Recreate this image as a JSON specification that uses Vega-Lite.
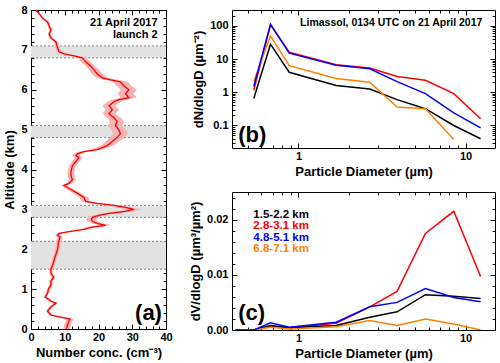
{
  "$schema": "https://vega.github.io/schema/vega-lite/v6.json",
  "autosize": {"type": "none"},
  "padding": {"left": 31, "top": 10, "right": 469, "bottom": 353},
  "bounds": "flush",
  "spacing": 66,
  "datasets": {
    "bands": [{"b": 1.5, "t": 2.2}, {"b": 2.8, "t": 3.1}, {"b": 4.8, "t": 5.1}, {"b": 6.8, "t": 7.1}],
    "bandlines": [{"y": 1.5}, {"y": 2.2}, {"y": 2.8}, {"y": 3.1}, {"y": 4.8}, {"y": 5.1}, {"y": 6.8}, {"y": 7.1}],
    "profile": [
      {"alt": 0, "n": 10.5, "lo": 9.5, "hi": 11.5},
      {"alt": 0.1, "n": 10.8, "lo": 9.8, "hi": 11.8},
      {"alt": 0.2, "n": 11.3, "lo": 10.3, "hi": 12.3},
      {"alt": 0.25, "n": 11.6, "lo": 10.6, "hi": 12.6},
      {"alt": 0.3, "n": 8.8, "lo": 8.0, "hi": 9.6},
      {"alt": 0.35, "n": 5.9, "lo": 5.4, "hi": 6.4},
      {"alt": 0.45, "n": 4.9, "lo": 4.4, "hi": 5.4},
      {"alt": 0.55, "n": 5.9, "lo": 5.4, "hi": 6.4},
      {"alt": 0.65, "n": 7.4, "lo": 6.8, "hi": 8.0},
      {"alt": 0.7, "n": 5.9, "lo": 5.4, "hi": 6.4},
      {"alt": 0.8, "n": 4.2, "lo": 3.8, "hi": 4.6},
      {"alt": 0.9, "n": 4.9, "lo": 4.4, "hi": 5.4},
      {"alt": 1.0, "n": 5.2, "lo": 4.7, "hi": 5.7},
      {"alt": 1.1, "n": 5.9, "lo": 5.4, "hi": 6.4},
      {"alt": 1.2, "n": 5.9, "lo": 5.4, "hi": 6.4},
      {"alt": 1.3, "n": 6.7, "lo": 6.1, "hi": 7.3},
      {"alt": 1.4, "n": 5.9, "lo": 5.4, "hi": 6.4},
      {"alt": 1.5, "n": 5.9, "lo": 5.4, "hi": 6.4},
      {"alt": 1.6, "n": 6.4, "lo": 5.8, "hi": 7.0},
      {"alt": 1.8, "n": 7.1, "lo": 6.5, "hi": 7.7},
      {"alt": 2.0, "n": 7.9, "lo": 7.2, "hi": 8.6},
      {"alt": 2.2, "n": 8.2, "lo": 7.5, "hi": 8.9},
      {"alt": 2.3, "n": 8.6, "lo": 7.8, "hi": 9.4},
      {"alt": 2.35, "n": 7.9, "lo": 7.2, "hi": 8.6},
      {"alt": 2.4, "n": 8.3, "lo": 7.6, "hi": 9.0},
      {"alt": 2.45, "n": 11.8, "lo": 10.8, "hi": 12.8},
      {"alt": 2.5, "n": 15.7, "lo": 14.4, "hi": 17.0},
      {"alt": 2.55, "n": 17.7, "lo": 16.2, "hi": 19.2},
      {"alt": 2.6, "n": 22.1, "lo": 20.3, "hi": 23.9},
      {"alt": 2.65, "n": 19.6, "lo": 18.0, "hi": 21.2},
      {"alt": 2.7, "n": 18.2, "lo": 16.7, "hi": 19.7},
      {"alt": 2.75, "n": 17.9, "lo": 16.4, "hi": 19.4},
      {"alt": 2.8, "n": 18.2, "lo": 16.7, "hi": 19.7},
      {"alt": 2.85, "n": 20.1, "lo": 18.4, "hi": 21.8},
      {"alt": 2.9, "n": 23.1, "lo": 21.2, "hi": 25.0},
      {"alt": 2.95, "n": 28.0, "lo": 25.7, "hi": 30.3},
      {"alt": 3.0, "n": 30.5, "lo": 28.0, "hi": 33.0},
      {"alt": 3.05, "n": 28.0, "lo": 25.7, "hi": 30.3},
      {"alt": 3.1, "n": 24.6, "lo": 22.6, "hi": 26.6},
      {"alt": 3.15, "n": 19.6, "lo": 18.0, "hi": 21.2},
      {"alt": 3.2, "n": 16.2, "lo": 14.9, "hi": 17.5},
      {"alt": 3.3, "n": 15.7, "lo": 14.4, "hi": 17.0},
      {"alt": 3.35, "n": 14.7, "lo": 13.5, "hi": 15.9},
      {"alt": 3.4, "n": 13.8, "lo": 12.7, "hi": 14.9},
      {"alt": 3.5, "n": 11.8, "lo": 10.8, "hi": 12.8},
      {"alt": 3.6, "n": 9.8, "lo": 9.0, "hi": 10.6},
      {"alt": 3.65, "n": 11.3, "lo": 10.4, "hi": 12.2},
      {"alt": 3.75, "n": 12.3, "lo": 11.3, "hi": 13.3},
      {"alt": 3.8, "n": 12.0, "lo": 11.0, "hi": 13.0},
      {"alt": 3.9, "n": 11.8, "lo": 10.8, "hi": 12.8},
      {"alt": 4.0, "n": 12.0, "lo": 11.0, "hi": 13.0},
      {"alt": 4.1, "n": 12.3, "lo": 11.3, "hi": 13.3},
      {"alt": 4.2, "n": 13.3, "lo": 12.2, "hi": 14.4},
      {"alt": 4.3, "n": 14.2, "lo": 13.0, "hi": 15.4},
      {"alt": 4.35, "n": 13.3, "lo": 12.2, "hi": 14.4},
      {"alt": 4.4, "n": 13.8, "lo": 12.7, "hi": 14.9},
      {"alt": 4.45, "n": 15.7, "lo": 14.4, "hi": 17.0},
      {"alt": 4.5, "n": 19.6, "lo": 18.0, "hi": 21.2},
      {"alt": 4.6, "n": 22.6, "lo": 20.8, "hi": 24.4},
      {"alt": 4.7, "n": 24.1, "lo": 22.1, "hi": 26.1},
      {"alt": 4.8, "n": 25.5, "lo": 23.4, "hi": 27.6},
      {"alt": 4.9, "n": 26.5, "lo": 24.3, "hi": 28.7},
      {"alt": 5.0, "n": 26.0, "lo": 23.9, "hi": 28.1},
      {"alt": 5.1, "n": 25.0, "lo": 23.0, "hi": 27.0},
      {"alt": 5.2, "n": 25.5, "lo": 23.4, "hi": 27.6},
      {"alt": 5.3, "n": 24.6, "lo": 22.6, "hi": 26.6},
      {"alt": 5.4, "n": 23.1, "lo": 21.2, "hi": 25.0},
      {"alt": 5.5, "n": 24.1, "lo": 22.1, "hi": 26.1},
      {"alt": 5.6, "n": 23.1, "lo": 21.2, "hi": 25.0},
      {"alt": 5.7, "n": 24.6, "lo": 22.6, "hi": 26.6},
      {"alt": 5.75, "n": 26.0, "lo": 23.9, "hi": 28.1},
      {"alt": 5.8, "n": 29.0, "lo": 26.6, "hi": 31.4},
      {"alt": 5.9, "n": 28.0, "lo": 25.7, "hi": 30.3},
      {"alt": 6.0, "n": 29.0, "lo": 26.6, "hi": 31.4},
      {"alt": 6.1, "n": 27.5, "lo": 25.3, "hi": 29.7},
      {"alt": 6.2, "n": 26.5, "lo": 24.3, "hi": 28.7},
      {"alt": 6.25, "n": 23.6, "lo": 21.7, "hi": 25.5},
      {"alt": 6.3, "n": 21.1, "lo": 19.4, "hi": 22.8},
      {"alt": 6.4, "n": 19.6, "lo": 18.0, "hi": 21.2},
      {"alt": 6.5, "n": 18.7, "lo": 17.2, "hi": 20.2},
      {"alt": 6.6, "n": 17.5, "lo": 16.1, "hi": 18.9},
      {"alt": 6.7, "n": 16.2, "lo": 14.9, "hi": 17.5},
      {"alt": 6.8, "n": 15.2, "lo": 14.0, "hi": 16.4},
      {"alt": 6.85, "n": 12.8, "lo": 11.8, "hi": 13.8},
      {"alt": 6.9, "n": 9.8, "lo": 9.0, "hi": 10.6},
      {"alt": 6.95, "n": 8.3, "lo": 7.6, "hi": 9.0},
      {"alt": 7.0, "n": 8.1, "lo": 7.4, "hi": 8.8},
      {"alt": 7.1, "n": 7.7, "lo": 7.1, "hi": 8.3},
      {"alt": 7.2, "n": 7.4, "lo": 6.8, "hi": 8.0},
      {"alt": 7.3, "n": 5.9, "lo": 5.4, "hi": 6.4},
      {"alt": 7.4, "n": 5.4, "lo": 5.0, "hi": 5.8},
      {"alt": 7.5, "n": 5.9, "lo": 5.4, "hi": 6.4},
      {"alt": 7.6, "n": 5.4, "lo": 5.0, "hi": 5.8},
      {"alt": 7.7, "n": 4.9, "lo": 4.5, "hi": 5.3},
      {"alt": 7.8, "n": 3.4, "lo": 3.1, "hi": 3.7},
      {"alt": 7.9, "n": 2.5, "lo": 2.3, "hi": 2.7},
      {"alt": 8.0, "n": 1.5, "lo": 1.4, "hi": 1.6}
    ],
    "psdN": [
      {"s": "2.8-3.1 km", "d": 0.54, "v": 1.15}, {"s": "2.8-3.1 km", "d": 0.68, "v": 107}, {"s": "2.8-3.1 km", "d": 0.88, "v": 16}, {"s": "2.8-3.1 km", "d": 1.68, "v": 6.8}, {"s": "2.8-3.1 km", "d": 2.67, "v": 5.4}, {"s": "2.8-3.1 km", "d": 3.89, "v": 3.0}, {"s": "2.8-3.1 km", "d": 5.75, "v": 2.3}, {"s": "2.8-3.1 km", "d": 8.5, "v": 0.91}, {"s": "2.8-3.1 km", "d": 12.3, "v": 0.16},
      {"s": "1.5-2.2 km", "d": 0.54, "v": 0.65}, {"s": "1.5-2.2 km", "d": 0.68, "v": 28}, {"s": "1.5-2.2 km", "d": 0.88, "v": 4.0}, {"s": "1.5-2.2 km", "d": 1.68, "v": 1.6}, {"s": "1.5-2.2 km", "d": 2.67, "v": 1.26}, {"s": "1.5-2.2 km", "d": 3.89, "v": 0.6}, {"s": "1.5-2.2 km", "d": 5.75, "v": 0.32}, {"s": "1.5-2.2 km", "d": 8.5, "v": 0.1}, {"s": "1.5-2.2 km", "d": 12.3, "v": 0.04},
      {"s": "6.8-7.1 km", "d": 0.54, "v": 2.1}, {"s": "6.8-7.1 km", "d": 0.68, "v": 50}, {"s": "6.8-7.1 km", "d": 0.88, "v": 6.3}, {"s": "6.8-7.1 km", "d": 1.68, "v": 2.6}, {"s": "6.8-7.1 km", "d": 2.67, "v": 2.0}, {"s": "6.8-7.1 km", "d": 3.89, "v": 0.36}, {"s": "6.8-7.1 km", "d": 5.75, "v": 0.32}, {"s": "6.8-7.1 km", "d": 8.5, "v": 0.038},
      {"s": "4.8-5.1 km", "d": 0.54, "v": 1.5}, {"s": "4.8-5.1 km", "d": 0.68, "v": 112}, {"s": "4.8-5.1 km", "d": 0.88, "v": 15}, {"s": "4.8-5.1 km", "d": 1.68, "v": 6.5}, {"s": "4.8-5.1 km", "d": 2.67, "v": 5.1}, {"s": "4.8-5.1 km", "d": 3.89, "v": 2.1}, {"s": "4.8-5.1 km", "d": 5.75, "v": 0.91}, {"s": "4.8-5.1 km", "d": 8.5, "v": 0.24}, {"s": "4.8-5.1 km", "d": 12.3, "v": 0.085}
    ],
    "psdV": [
      {"s": "2.8-3.1 km", "d": 0.42, "v": 0}, {"s": "2.8-3.1 km", "d": 0.54, "v": 0}, {"s": "2.8-3.1 km", "d": 0.68, "v": 0.0007}, {"s": "2.8-3.1 km", "d": 0.88, "v": 0.0004}, {"s": "2.8-3.1 km", "d": 1.68, "v": 0.0012}, {"s": "2.8-3.1 km", "d": 2.67, "v": 0.0042}, {"s": "2.8-3.1 km", "d": 3.89, "v": 0.007}, {"s": "2.8-3.1 km", "d": 5.75, "v": 0.0175}, {"s": "2.8-3.1 km", "d": 8.5, "v": 0.0215}, {"s": "2.8-3.1 km", "d": 12.3, "v": 0.0097},
      {"s": "1.5-2.2 km", "d": 0.42, "v": 0}, {"s": "1.5-2.2 km", "d": 0.54, "v": 0}, {"s": "1.5-2.2 km", "d": 0.68, "v": 0.0008}, {"s": "1.5-2.2 km", "d": 0.88, "v": 0.0004}, {"s": "1.5-2.2 km", "d": 1.68, "v": 0.0008}, {"s": "1.5-2.2 km", "d": 2.67, "v": 0.0023}, {"s": "1.5-2.2 km", "d": 3.89, "v": 0.0033}, {"s": "1.5-2.2 km", "d": 5.75, "v": 0.0064}, {"s": "1.5-2.2 km", "d": 8.5, "v": 0.0061}, {"s": "1.5-2.2 km", "d": 12.3, "v": 0.0057},
      {"s": "6.8-7.1 km", "d": 0.42, "v": 0}, {"s": "6.8-7.1 km", "d": 0.54, "v": 0}, {"s": "6.8-7.1 km", "d": 0.68, "v": 0.0005}, {"s": "6.8-7.1 km", "d": 0.88, "v": 0.0002}, {"s": "6.8-7.1 km", "d": 1.68, "v": 0.0006}, {"s": "6.8-7.1 km", "d": 2.67, "v": 0.0017}, {"s": "6.8-7.1 km", "d": 3.89, "v": 0.0008}, {"s": "6.8-7.1 km", "d": 5.75, "v": 0.002}, {"s": "6.8-7.1 km", "d": 8.5, "v": 0.0011}, {"s": "6.8-7.1 km", "d": 12.3, "v": 0},
      {"s": "4.8-5.1 km", "d": 0.42, "v": 0}, {"s": "4.8-5.1 km", "d": 0.54, "v": 0}, {"s": "4.8-5.1 km", "d": 0.68, "v": 0.0013}, {"s": "4.8-5.1 km", "d": 0.88, "v": 0.0005}, {"s": "4.8-5.1 km", "d": 1.68, "v": 0.0014}, {"s": "4.8-5.1 km", "d": 2.67, "v": 0.0042}, {"s": "4.8-5.1 km", "d": 3.89, "v": 0.005}, {"s": "4.8-5.1 km", "d": 5.75, "v": 0.0075}, {"s": "4.8-5.1 km", "d": 8.5, "v": 0.0059}, {"s": "4.8-5.1 km", "d": 12.3, "v": 0.0051}
    ],
    "legendC": [
      {"s": "1.5-2.2 km", "d": 0.537, "v": 0.0209},
      {"s": "2.8-3.1 km", "d": 0.537, "v": 0.0188},
      {"s": "4.8-5.1 km", "d": 0.537, "v": 0.0167},
      {"s": "6.8-7.1 km", "d": 0.537, "v": 0.0146}
    ]
  },
  "hconcat": [
    {
      "width": 135,
      "height": 319,
      "resolve": {"axis": {"x": "independent", "y": "independent"}},
      "layer": [
        {
          "data": {"name": "bands"},
          "mark": {"type": "rect", "color": "#e2e2e2"},
          "encoding": {
            "y": {"field": "b", "type": "quantitative", "scale": {"domain": [0, 8], "nice": false}, "axis": null},
            "y2": {"field": "t"}
          }
        },
        {
          "data": {"name": "bandlines"},
          "mark": {"type": "rule", "color": "#808080", "strokeDash": [2, 2], "strokeWidth": 1},
          "encoding": {"y": {"field": "y", "type": "quantitative", "axis": null}}
        },
        {
          "data": {"name": "profile"},
          "mark": {"type": "area", "orient": "horizontal", "color": "#f6b4b4"},
          "encoding": {
            "y": {"field": "alt", "type": "quantitative", "axis": null},
            "x": {"field": "lo", "type": "quantitative", "scale": {"domain": [0, 40], "nice": false}, "axis": null},
            "x2": {"field": "hi"}
          }
        },
        {
          "data": {"name": "profile"},
          "mark": {"type": "line", "color": "#ff0000", "strokeWidth": 1.3},
          "encoding": {
            "order": {"field": "alt", "type": "quantitative"},
            "y": {"field": "alt", "type": "quantitative", "axis": {
              "orient": "left", "title": "Altitude (km)",
              "values": [0,0.2,0.4,0.6,0.8,1,1.2,1.4,1.6,1.8,2,2.2,2.4,2.6,2.8,3,3.2,3.4,3.6,3.8,4,4.2,4.4,4.6,4.8,5,5.2,5.4,5.6,5.8,6,6.2,6.4,6.6,6.8,7,7.2,7.4,7.6,7.8,8],
              "labelExpr": "datum.value % 1 == 0 ? format(datum.value, 'd') : ''",
              "tickSize": {"condition": {"test": "datum.value % 1 == 0", "value": -5}, "value": -3}
            }},
            "x": {"field": "n", "type": "quantitative", "axis": {
              "orient": "bottom", "title": "Number conc. (cm⁻³)",
              "values": [0,2,4,6,8,10,12,14,16,18,20,22,24,26,28,30,32,34,36,38,40],
              "labelExpr": "datum.value % 10 == 0 ? format(datum.value, 'd') : ''",
              "tickSize": {"condition": {"test": "datum.value % 10 == 0", "value": -5}, "value": -3}
            }}
          }
        },
        {
          "data": {"name": "profile"},
          "mark": {"type": "point", "opacity": 0},
          "encoding": {
            "y": {"field": "alt", "type": "quantitative", "axis": {
              "orient": "right", "title": null, "labels": false,
              "values": [0,0.2,0.4,0.6,0.8,1,1.2,1.4,1.6,1.8,2,2.2,2.4,2.6,2.8,3,3.2,3.4,3.6,3.8,4,4.2,4.4,4.6,4.8,5,5.2,5.4,5.6,5.8,6,6.2,6.4,6.6,6.8,7,7.2,7.4,7.6,7.8,8],
              "tickSize": {"condition": {"test": "datum.value % 1 == 0", "value": -5}, "value": -3}
            }},
            "x": {"field": "n", "type": "quantitative", "axis": {
              "orient": "top", "title": null, "labels": false,
              "values": [0,2,4,6,8,10,12,14,16,18,20,22,24,26,28,30,32,34,36,38,40],
              "tickSize": {"condition": {"test": "datum.value % 10 == 0", "value": -5}, "value": -3}
            }}
          }
        },
        {
          "data": {"values": [{"n": 37.5, "alt": 7.68, "t": "21 April 2017"}, {"n": 37.5, "alt": 7.38, "t": "launch 2"}]},
          "mark": {"type": "text", "align": "right", "baseline": "middle", "fontSize": 11, "fontWeight": "bold", "color": "black"},
          "encoding": {
            "x": {"field": "n", "type": "quantitative", "axis": null},
            "y": {"field": "alt", "type": "quantitative", "axis": null},
            "text": {"field": "t"}
          }
        },
        {
          "data": {"values": [{"n": 38.8, "alt": 0.4, "t": "(a)"}]},
          "mark": {"type": "text", "align": "right", "baseline": "middle", "fontSize": 22, "fontWeight": "bold", "color": "black"},
          "encoding": {
            "x": {"field": "n", "type": "quantitative", "axis": null},
            "y": {"field": "alt", "type": "quantitative", "axis": null},
            "text": {"field": "t"}
          }
        }
      ]
    },
    {
      "vconcat": [
        {
          "width": 263,
          "height": 138,
          "resolve": {"axis": {"x": "independent", "y": "independent"}},
          "layer": [
            {
              "data": {"name": "psdN"},
              "mark": {"type": "line", "strokeWidth": 1.5, "clip": true},
              "encoding": {
                "color": {"field": "s", "type": "nominal", "legend": null, "scale": {"domain": ["1.5-2.2 km", "2.8-3.1 km", "4.8-5.1 km", "6.8-7.1 km"], "range": ["#000000", "#ff0000", "#0000ff", "#ff8000"]}},
                "x": {"field": "d", "type": "quantitative", "scale": {"type": "log", "domain": [0.4, 15], "nice": false}, "axis": {
                  "orient": "bottom", "title": "Particle Diameter (µm)",
                  "values": [0.5,0.6,0.7,0.8,0.9,1,2,3,4,5,6,7,8,9,10],
                  "labelExpr": "datum.value == 1 ? '1' : datum.value == 10 ? '10' : ''",
                  "tickSize": {"condition": {"test": "datum.value == 1 || datum.value == 10", "value": -5}, "value": -3}
                }},
                "y": {"field": "v", "type": "quantitative", "scale": {"type": "log", "domain": [0.021, 300], "nice": false}, "axis": {
                  "orient": "left", "title": "dN/dlogD (µm⁻²)",
                  "values": [0.03,0.04,0.05,0.06,0.07,0.08,0.09,0.1,0.2,0.3,0.4,0.5,0.6,0.7,0.8,0.9,1,2,3,4,5,6,7,8,9,10,20,30,40,50,60,70,80,90,100,200],
                  "labelExpr": "datum.value == 0.1 ? '0.1' : datum.value == 1 ? '1' : datum.value == 10 ? '10' : datum.value == 100 ? '100' : ''",
                  "tickSize": {"condition": {"test": "datum.value == 0.1 || datum.value == 1 || datum.value == 10 || datum.value == 100", "value": -5}, "value": -3}
                }}
              }
            },
            {
              "data": {"name": "psdN"},
              "mark": {"type": "point", "opacity": 0},
              "encoding": {
                "x": {"field": "d", "type": "quantitative", "axis": {
                  "orient": "top", "title": null, "labels": false,
                  "values": [0.5,0.6,0.7,0.8,0.9,1,2,3,4,5,6,7,8,9,10],
                  "tickSize": {"condition": {"test": "datum.value == 1 || datum.value == 10", "value": -5}, "value": -3}
                }},
                "y": {"field": "v", "type": "quantitative", "axis": {
                  "orient": "right", "title": null, "labels": false,
                  "values": [0.03,0.04,0.05,0.06,0.07,0.08,0.09,0.1,0.2,0.3,0.4,0.5,0.6,0.7,0.8,0.9,1,2,3,4,5,6,7,8,9,10,20,30,40,50,60,70,80,90,100,200],
                  "tickSize": {"condition": {"test": "datum.value == 0.1 || datum.value == 1 || datum.value == 10 || datum.value == 100", "value": -5}, "value": -3}
                }}
              }
            },
            {
              "data": {"values": [{"d": 12.6, "v": 120, "t": "Limassol, 0134 UTC on 21 April 2017"}]},
              "mark": {"type": "text", "align": "right", "baseline": "middle", "fontSize": 10.5, "fontWeight": "bold", "color": "black"},
              "encoding": {
                "x": {"field": "d", "type": "quantitative", "axis": null},
                "y": {"field": "v", "type": "quantitative", "axis": null},
                "text": {"field": "t"}
              }
            },
            {
              "data": {"values": [{"d": 0.436, "v": 0.05, "t": "(b)"}]},
              "mark": {"type": "text", "align": "left", "baseline": "middle", "fontSize": 22, "fontWeight": "bold", "color": "black"},
              "encoding": {
                "x": {"field": "d", "type": "quantitative", "axis": null},
                "y": {"field": "v", "type": "quantitative", "axis": null},
                "text": {"field": "t"}
              }
            }
          ]
        },
        {
          "width": 263,
          "height": 138,
          "resolve": {"axis": {"x": "independent", "y": "independent"}},
          "layer": [
            {
              "data": {"name": "psdV"},
              "mark": {"type": "line", "strokeWidth": 1.5, "clip": true},
              "encoding": {
                "color": {"field": "s", "type": "nominal", "legend": null, "scale": {"domain": ["1.5-2.2 km", "2.8-3.1 km", "4.8-5.1 km", "6.8-7.1 km"], "range": ["#000000", "#ff0000", "#0000ff", "#ff8000"]}},
                "x": {"field": "d", "type": "quantitative", "scale": {"type": "log", "domain": [0.4, 15], "nice": false}, "axis": {
                  "orient": "bottom", "title": "Particle Diameter (µm)",
                  "values": [0.5,0.6,0.7,0.8,0.9,1,2,3,4,5,6,7,8,9,10],
                  "labelExpr": "datum.value == 1 ? '1' : datum.value == 10 ? '10' : ''",
                  "tickSize": {"condition": {"test": "datum.value == 1 || datum.value == 10", "value": -5}, "value": -3}
                }},
                "y": {"field": "v", "type": "quantitative", "scale": {"domain": [0, 0.025], "nice": false, "zero": false}, "axis": {
                  "orient": "left", "title": "dV/dlogD (µm³/µm²)",
                  "values": [0,0.002,0.004,0.006,0.008,0.01,0.012,0.014,0.016,0.018,0.02,0.022,0.024],
                  "labelExpr": "datum.value == 0 ? '0.00' : datum.value == 0.01 ? '0.01' : datum.value == 0.02 ? '0.02' : ''",
                  "tickSize": {"condition": {"test": "datum.value == 0 || datum.value == 0.01 || datum.value == 0.02", "value": -5}, "value": -3}
                }}
              }
            },
            {
              "data": {"name": "psdV"},
              "mark": {"type": "point", "opacity": 0},
              "encoding": {
                "x": {"field": "d", "type": "quantitative", "axis": {
                  "orient": "top", "title": null, "labels": false,
                  "values": [0.5,0.6,0.7,0.8,0.9,1,2,3,4,5,6,7,8,9,10],
                  "tickSize": {"condition": {"test": "datum.value == 1 || datum.value == 10", "value": -5}, "value": -3}
                }},
                "y": {"field": "v", "type": "quantitative", "axis": {
                  "orient": "right", "title": null, "labels": false,
                  "values": [0,0.002,0.004,0.006,0.008,0.01,0.012,0.014,0.016,0.018,0.02,0.022,0.024],
                  "tickSize": {"condition": {"test": "datum.value == 0 || datum.value == 0.01 || datum.value == 0.02", "value": -5}, "value": -3}
                }}
              }
            },
            {
              "data": {"name": "legendC"},
              "mark": {"type": "text", "align": "left", "baseline": "middle", "fontSize": 11.5, "fontWeight": "bold"},
              "encoding": {
                "x": {"field": "d", "type": "quantitative", "axis": null},
                "y": {"field": "v", "type": "quantitative", "axis": null},
                "color": {"field": "s", "type": "nominal", "legend": null},
                "text": {"field": "s"}
              }
            },
            {
              "data": {"values": [{"d": 0.436, "v": 0.0031, "t": "(c)"}]},
              "mark": {"type": "text", "align": "left", "baseline": "middle", "fontSize": 22, "fontWeight": "bold", "color": "black"},
              "encoding": {
                "x": {"field": "d", "type": "quantitative", "axis": null},
                "y": {"field": "v", "type": "quantitative", "axis": null},
                "text": {"field": "t"}
              }
            }
          ]
        }
      ],
      "spacing": 44,
      "bounds": "flush"
    }
  ],
  "config": {
    "view": {"stroke": "#000000", "strokeWidth": 1},
    "axis": {
      "domain": false, "grid": false, "ticks": true, "tickColor": "#000000", "tickWidth": 1,
      "labelFont": "Liberation Sans", "labelFontWeight": "bold", "labelFontSize": 11, "labelColor": "#000000",
      "labelOverlap": false, "labelFlush": false, "labelPadding": 9, "titlePadding": 4,
      "titleFont": "Liberation Sans", "titleFontWeight": "bold", "titleFontSize": 13, "titleColor": "#000000"
    },
    "axisX": {"labelPadding": 7, "titlePadding": 2},
    "text": {"font": "Liberation Sans"}
  }
}
